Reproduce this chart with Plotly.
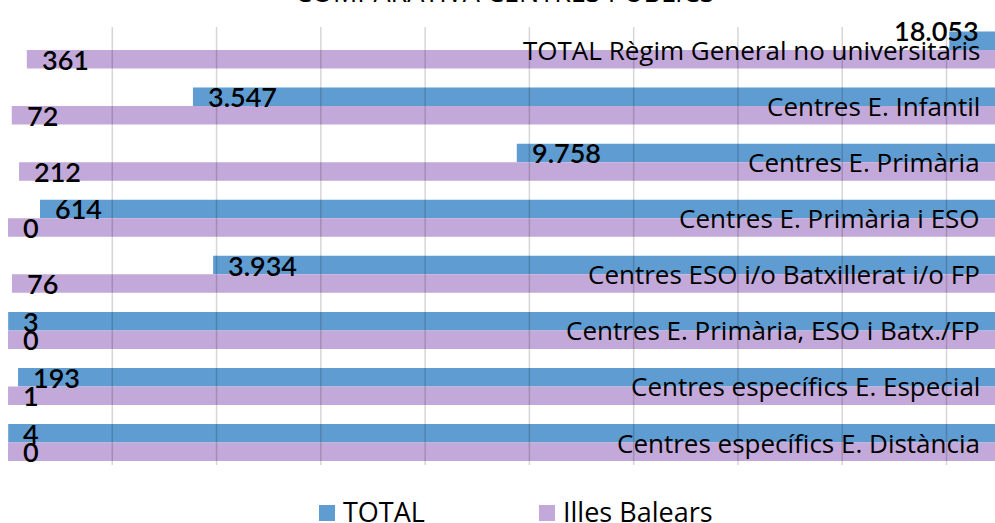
import plotly.graph_objects as go

categories = [
    "TOTAL Règim General no universitaris",
    "Centres E. Infantil",
    "Centres E. Primària",
    "Centres E. Primària i ESO",
    "Centres ESO i/o Batxillerat i/o FP",
    "Centres E. Primària, ESO i Batx./FP",
    "Centres específics E. Especial",
    "Centres específics E. Distància",
]
total_values = [18053, 3547, 9758, 614, 3934, 3, 193, 4]
balears_values = [361, 72, 212, 0, 76, 0, 1, 0]
series_names = ["TOTAL", "Illes Balears"]
title_text = "COMPARATIVA CENTRES PÚBLICS"
grid_values = [2000, 4000, 6000, 8000, 10000, 12000, 14000, 16000, 18000]

BLUE = "#5F9CD1"
PURPLE = "#C3A9D9"
AXIS_MAX = 20000          # axis crosses at maximum: bars run from value to max
X_RANGE = [0, 18930]
LABEL_FONT = "Open Sans"
NUM_FONT = "Lato"
BAR_W = 0.33

W, H = 995, 523
ML, MR, MT, MB = 8, 0, 27, 58
PW, PH = W - ML - MR, H - MT - MB

idx = list(range(len(categories)))


def fmt(v):
    return f"{v:,}".replace(",", ".")


def px_x(px):
    return (px - ML) / PW


def px_y(py):
    return (H - MB - py) / PH


fig = go.Figure()
fig.add_trace(go.Bar(
    name=series_names[0], orientation="h", y=idx,
    base=total_values, x=[AXIS_MAX - v for v in total_values],
    width=BAR_W, offset=-BAR_W, marker=dict(color=BLUE, line=dict(width=0)),
    hovertext=[fmt(v) for v in total_values], hoverinfo="text+name",
    showlegend=False,
))
fig.add_trace(go.Bar(
    name=series_names[1], orientation="h", y=idx,
    base=balears_values, x=[AXIS_MAX - v for v in balears_values],
    width=BAR_W, offset=0, marker=dict(color=PURPLE, line=dict(width=0)),
    hovertext=[fmt(v) for v in balears_values], hoverinfo="text+name",
    showlegend=False,
))

annotations = []
# category labels (right side, over bars)
for i, c in zip(idx, categories):
    annotations.append(dict(
        x=1, xref="paper", y=i, yref="y", text=c, showarrow=False,
        xanchor="right", yanchor="middle", xshift=-13,
        font=dict(family=LABEL_FONT, size=26, color="#000000"),
    ))
# value labels
num_font = dict(family=NUM_FONT, size=27, color="#000000", weight=600)
for i, v in zip(idx, total_values):
    a = dict(x=v, xref="x", y=i - BAR_W / 2, yref="y", text=fmt(v),
             showarrow=False, xanchor="left", yanchor="middle", xshift=13,
             font=num_font)
    if v > 17000:
        a.update(xanchor="right", xshift=32, yshift=10)
    annotations.append(a)
for i, v in zip(idx, balears_values):
    annotations.append(dict(
        x=v, xref="x", y=i + BAR_W / 2, yref="y", text=fmt(v),
        showarrow=False, xanchor="left", yanchor="middle", xshift=13,
        font=num_font))
# title (cut at top as in reference)
annotations.append(dict(
    x=0.5, xref="paper", y=1, yref="paper", text=title_text, showarrow=False,
    xanchor="center", yanchor="bottom", yshift=15, xshift=2.5,
    font=dict(family=LABEL_FONT, size=27, color="#000000"),
))

# legend (drawn at the reference's position)
legend_items = [(319, BLUE, series_names[0]), (539, PURPLE, series_names[1])]
shapes = []
for x0, col, name in legend_items:
    shapes.append(dict(type="rect", xref="paper", yref="paper",
                       x0=px_x(x0), x1=px_x(x0 + 16), y0=px_y(521), y1=px_y(505),
                       fillcolor=col, line=dict(width=0)))
    annotations.append(dict(
        x=px_x(x0 + 22), xref="paper", y=px_y(512), yref="paper", text=name,
        showarrow=False, xanchor="left", yanchor="middle",
        font=dict(family=LABEL_FONT, size=27, color="#000000")))

shapes += [dict(type="line", xref="x", yref="paper", x0=g, x1=g, y0=0, y1=1,
                line=dict(color="rgba(0,0,0,0.16)", width=1.5), layer="above")
           for g in grid_values]

fig.update_layout(
    width=W, height=H,
    margin=dict(l=ML, r=MR, t=MT, b=MB, pad=0),
    paper_bgcolor="white", plot_bgcolor="white",
    barmode="overlay",
    xaxis=dict(range=X_RANGE, showgrid=False, zeroline=False,
               showticklabels=False, ticks="", showline=False, fixedrange=True),
    yaxis=dict(range=[7.40, -0.41], showgrid=False, zeroline=False,
               showticklabels=False, ticks="", showline=False, fixedrange=True),
    showlegend=False,
    annotations=annotations,
    shapes=shapes,
)

fig.write_html("out.html", config={"displayModeBar": False},
               post_script="document.body.style.margin='0px';document.body.style.overflow='hidden';")
